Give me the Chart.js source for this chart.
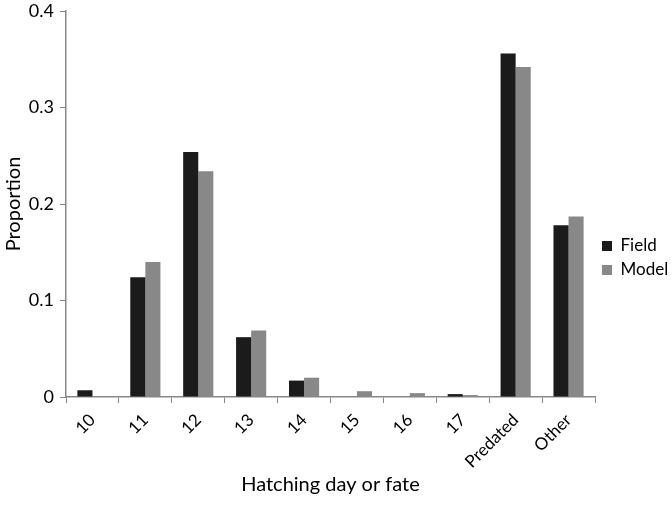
<!DOCTYPE html>
<html>
<head>
<meta charset="utf-8">
<script src="https://cdn.jsdelivr.net/npm/chart.js@4.4.1/dist/chart.umd.min.js"></script>
<style>
  html, body { margin: 0; padding: 0; background: #ffffff; }
  #wrap { width: 672px; height: 505px; }
</style>
</head>
<body>
<div id="wrap"><canvas id="c" width="672" height="505"></canvas></div>
<script>
const categories = ["10", "11", "12", "13", "14", "15", "16", "17", "Predated", "Other"];
const fieldValues = [0.007, 0.124, 0.254, 0.062, 0.017, 0, 0, 0.003, 0.356, 0.178];
const modelValues = [0, 0.140, 0.234, 0.069, 0.020, 0.006, 0.004, 0.002, 0.342, 0.187];
const yTicks = [0, 0.1, 0.2, 0.3, 0.4];

const FONT = "Lato, 'Open Sans', sans-serif";

const chart = new Chart(document.getElementById('c'), {
  type: 'bar',
  data: {
    labels: categories,
    datasets: [
      { label: 'Field', data: fieldValues, backgroundColor: '#1b1b1b', borderWidth: 0 },
      { label: 'Model', data: modelValues, backgroundColor: '#888888', borderWidth: 0 }
    ]
  },
  options: {
    responsive: false,
    animation: false,
    devicePixelRatio: 1,
    layout: { padding: { top: 11, left: 0, right: 0, bottom: 0 } },
    datasets: { bar: { categoryPercentage: 0.57, barPercentage: 1.0 } },
    plugins: {
      legend: {
        position: 'right',
        align: 'center',
        labels: {
          boxWidth: 10, boxHeight: 10, padding: 7,
          color: '#000', font: { family: FONT, size: 17 }
        }
      },
      tooltip: { enabled: false }
    },
    scales: {
      x: {
        offset: true,
        grid: { display: true, offset: true, drawOnChartArea: false, drawTicks: true, tickLength: 6, color: '#888', lineWidth: 1 },
        border: { display: true, color: '#888', width: 1.5 },
        ticks: { minRotation: 45, maxRotation: 45, color: '#000', font: { family: FONT, size: 17 }, padding: 7 },
        title: { display: true, text: 'Hatching day or fate', color: '#000', font: { family: FONT, size: 20 }, padding: { top: 4, bottom: 8 } },
        afterFit: s => { s.height = 108; s.paddingLeft = 0; s.paddingRight = 0; }
      },
      y: {
        min: 0, max: 0.4,
        afterBuildTicks: s => { s.ticks = yTicks.map(v => ({ value: v })); },
        grid: { display: true, drawOnChartArea: false, drawTicks: true, tickLength: 6, color: '#888', lineWidth: 1 },
        border: { display: true, color: '#888', width: 1.5 },
        ticks: { color: '#000', font: { family: FONT, size: 18 }, padding: 6, callback: v => String(v) },
        title: { display: true, text: 'Proportion', color: '#000', font: { family: FONT, size: 20 }, padding: { top: 2, bottom: 4 } },
        afterFit: s => { s.width = 66; s.paddingTop = 0; s.paddingBottom = 0; }
      }
    }
  }
});

// Fix the legend box width so the plot area ends where the reference ends
const origFit = chart.legend.fit.bind(chart.legend);
chart.legend.fit = function () { origFit(); this.width = 77; };
chart.update();
</script>
</body>
</html>
